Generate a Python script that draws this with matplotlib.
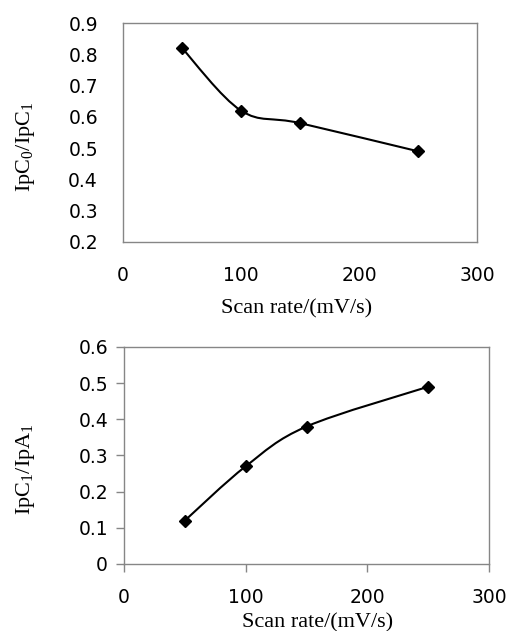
import numpy as np
import matplotlib
matplotlib.use("Agg")
import matplotlib.pyplot as plt
from matplotlib.path import Path
from matplotlib.patches import PathPatch

plt.rcParams['mathtext.fontset'] = 'custom'
plt.rcParams['mathtext.rm'] = 'Liberation Serif'
plt.rcParams['mathtext.it'] = 'Liberation Serif:italic'

# data
scan_rate = [50, 100, 150, 250]
ratio_c0_c1 = [0.82, 0.62, 0.58, 0.49]
ratio_c1_a1 = [0.12, 0.27, 0.38, 0.49]

x_ticks = [0, 100, 200, 300]
top_yticks = [0.2, 0.3, 0.4, 0.5, 0.6, 0.7, 0.8, 0.9]
bot_yticks = [0, 0.1, 0.2, 0.3, 0.4, 0.5, 0.6]

GRAY = '#868686'
TICK_FONT = {'family': 'DejaVu Sans', 'size': 13.5}
LABEL_FONT = {'family': 'Liberation Serif', 'size': 16}


def smooth_path(xs, ys):
    # excel-style smoothed line: cubic bezier through the points
    pts = np.column_stack([xs, ys]).astype(float)
    n = len(pts)
    verts = [pts[0]]
    codes = [Path.MOVETO]
    for i in range(n - 1):
        p0 = pts[i - 1] if i > 0 else pts[i]
        p1 = pts[i]
        p2 = pts[i + 1]
        p3 = pts[i + 2] if i + 2 < n else pts[i + 1]
        c1 = p1 + (p2 - p0) / 6.0
        c2 = p2 - (p3 - p1) / 6.0
        verts += [c1, c2, p2]
        codes += [Path.CURVE4] * 3
    return Path(verts, codes)


def draw_series(ax, xs, ys):
    ax.add_patch(PathPatch(smooth_path(xs, ys), fill=False, edgecolor='black', lw=1.5, zorder=3))
    ax.plot(xs, ys, linestyle='none', marker='D', ms=6, color='black', zorder=4)


fig = plt.figure(figsize=(5.11, 6.31), dpi=100)

# top panel
ax1 = fig.add_axes([0.2407, 0.6165, 0.6928, 0.347])
draw_series(ax1, scan_rate, ratio_c0_c1)
ax1.set_xlim(0, 300)
ax1.set_ylim(0.2, 0.9)
ax1.set_xticks(x_ticks)
ax1.set_yticks(top_yticks)
ax1.set_xticklabels([str(t) for t in x_ticks], fontdict=TICK_FONT)
ax1.set_yticklabels([f"{t:.1f}" for t in top_yticks], fontdict=TICK_FONT)
ax1.tick_params(axis='both', length=0)
ax1.tick_params(axis='x', pad=17)
ax1.tick_params(axis='y', pad=18)
for s in ax1.spines.values():
    s.set_color(GRAY)
    s.set_linewidth(1.0)
ax1.set_xlabel('Scan rate/(mV/s)', fontdict=LABEL_FONT)
ax1.xaxis.set_label_coords(0.49, -0.262)
ax1.set_ylabel(r'$\mathrm{IpC_0/IpC_1}$', fontsize=16)
ax1.yaxis.set_label_coords(-0.243, 0.434)

# bottom panel
ax2 = fig.add_axes([0.2427, 0.1062, 0.7143, 0.344])
draw_series(ax2, scan_rate, ratio_c1_a1)
ax2.set_xlim(0, 300)
ax2.set_ylim(0, 0.6)
ax2.set_xticks(x_ticks)
ax2.set_yticks(bot_yticks)
ax2.set_xticklabels([str(t) for t in x_ticks], fontdict=TICK_FONT)
ax2.set_yticklabels(['0'] + [f"{t:.1f}" for t in bot_yticks[1:]], fontdict=TICK_FONT)
ax2.tick_params(axis='both', length=5.5, color=GRAY, width=1.0, direction='out')
ax2.tick_params(axis='x', pad=12)
ax2.tick_params(axis='y', pad=6)
for s in ax2.spines.values():
    s.set_color(GRAY)
    s.set_linewidth(1.0)
ax2.set_xlabel('Scan rate/(mV/s)', fontdict=LABEL_FONT)
ax2.xaxis.set_label_coords(0.53, -0.225)
ax2.set_ylabel(r'$\mathrm{IpC_1/IpA_1}$', fontsize=16)
ax2.yaxis.set_label_coords(-0.238, 0.438)

fig.savefig('out.png', dpi=100)
